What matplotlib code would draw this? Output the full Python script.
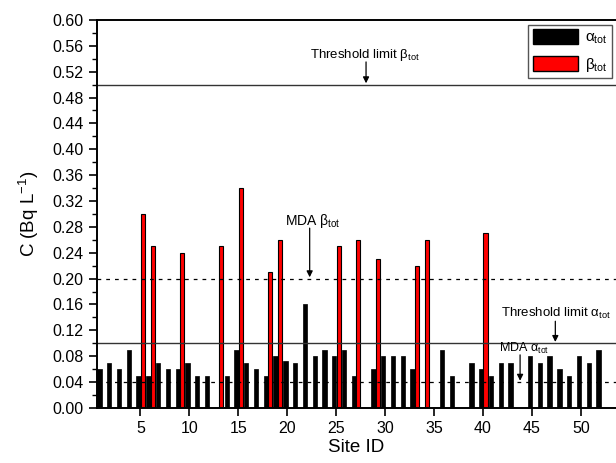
import numpy as np
import matplotlib
matplotlib.use('Agg')
import matplotlib.pyplot as plt
from matplotlib.patches import Patch
from matplotlib.ticker import MultipleLocator

plt.rcParams['font.family'] = ['Liberation Sans', 'DejaVu Sans']
plt.rcParams['mathtext.fontset'] = 'custom'
plt.rcParams['mathtext.rm'] = 'Liberation Sans'
plt.rcParams['mathtext.it'] = 'Liberation Sans:italic'

# site IDs and gross alpha / beta activity (Bq/L), 0 = not shown
sites = np.arange(1, 53)
alpha_tot = [0.06, 0.07, 0.06, 0.09, 0.05, 0.05, 0.07, 0.06, 0.06, 0.07,
             0.05, 0.05, 0.00, 0.05, 0.09, 0.07, 0.06, 0.05, 0.08, 0.073,
             0.07, 0.16, 0.08, 0.09, 0.08, 0.09, 0.05, 0.00, 0.06, 0.08,
             0.08, 0.08, 0.06, 0.00, 0.00, 0.09, 0.05, 0.00, 0.07, 0.06,
             0.05, 0.07, 0.07, 0.00, 0.08, 0.07, 0.08, 0.06, 0.05, 0.08,
             0.07, 0.09]
beta_sites = [5, 6, 9, 13, 15, 18, 19, 25, 27, 29, 33, 34, 40]
beta_tot = [0.30, 0.25, 0.24, 0.25, 0.34, 0.21, 0.26, 0.25, 0.26, 0.23, 0.22, 0.26, 0.27]

# reference levels
threshold_beta = 0.50
threshold_alpha = 0.10
mda_beta = 0.20
mda_alpha = 0.04

A = r'$\mathrm{\alpha}_{\mathrm{tot}}$'
B = r'$\mathrm{\beta}_{\mathrm{tot}}$'

fig = plt.figure(figsize=(6.16, 4.63), dpi=100)
ax = fig.add_axes([0.157, 0.119, 0.843, 0.838])

ax.bar(sites - 0.18, alpha_tot, width=0.44, color='black', edgecolor='black', linewidth=0.5)
ax.bar(np.array(beta_sites) + 0.27, beta_tot, width=0.42, color='red', edgecolor='black', linewidth=0.8)

ax.axhline(threshold_beta, color='#333333', lw=1.0)
ax.axhline(threshold_alpha, color='#333333', lw=1.0)
ax.axhline(mda_beta, color='black', lw=0.9, ls=(0, (3, 4)))
ax.axhline(mda_alpha, color='black', lw=0.9, ls=(0, (3, 4)))

arrow = dict(arrowstyle='-|>', color='black', lw=0.9, mutation_scale=9, shrinkA=0, shrinkB=0)
ax.text(22.3, 0.541, 'Threshold limit ' + B, fontsize=9.5)
ax.annotate('', xy=(28.06, 0.502), xytext=(28.06, 0.535), arrowprops=arrow)
ax.text(19.8, 0.283, 'MDA ' + B, fontsize=10)
ax.annotate('', xy=(22.3, 0.202), xytext=(22.3, 0.278), arrowprops=arrow)
ax.text(41.8, 0.140, 'Threshold limit ' + A, fontsize=9.5)
ax.annotate('', xy=(47.4, 0.102), xytext=(47.4, 0.134), arrowprops=arrow)
ax.text(41.6, 0.086, 'MDA ' + A, fontsize=9)
ax.annotate('', xy=(43.8, 0.042), xytext=(43.8, 0.082), arrowprops=arrow)

ax.set_xlim(0.54, 53.6)
ax.set_ylim(0, 0.60)
ax.set_xticks(range(5, 55, 5))
ax.yaxis.set_major_locator(MultipleLocator(0.04))
ax.yaxis.set_minor_locator(MultipleLocator(0.02))
ax.yaxis.set_major_formatter(matplotlib.ticker.FormatStrFormatter('%.2f'))
ax.tick_params(axis='both', which='major', direction='out', length=6, width=1.2, labelsize=11.5)
ax.tick_params(axis='y', which='minor', direction='out', length=3.5, width=1.0)
ax.spines['right'].set_visible(False)
for s in ['left', 'bottom', 'top']:
    ax.spines[s].set_linewidth(1.4)

ax.set_xlabel('Site ID', fontsize=13.5, labelpad=2)
ax.set_ylabel(r'C (Bq L$^{\mathregular{-1}}$)', fontsize=13.5, labelpad=8)

handles = [Patch(facecolor='black', edgecolor='black'), Patch(facecolor='red', edgecolor='black')]
ax.legend(handles, [A, B], loc='upper right',
          bbox_to_anchor=(0.998, 0.995), fancybox=False, edgecolor='#555555', framealpha=1,
          fontsize=11, handlelength=3.0, handleheight=1.1, borderpad=0.3, labelspacing=0.6,
          handletextpad=0.4, borderaxespad=0.2)

fig.savefig('out.png', dpi=100)
